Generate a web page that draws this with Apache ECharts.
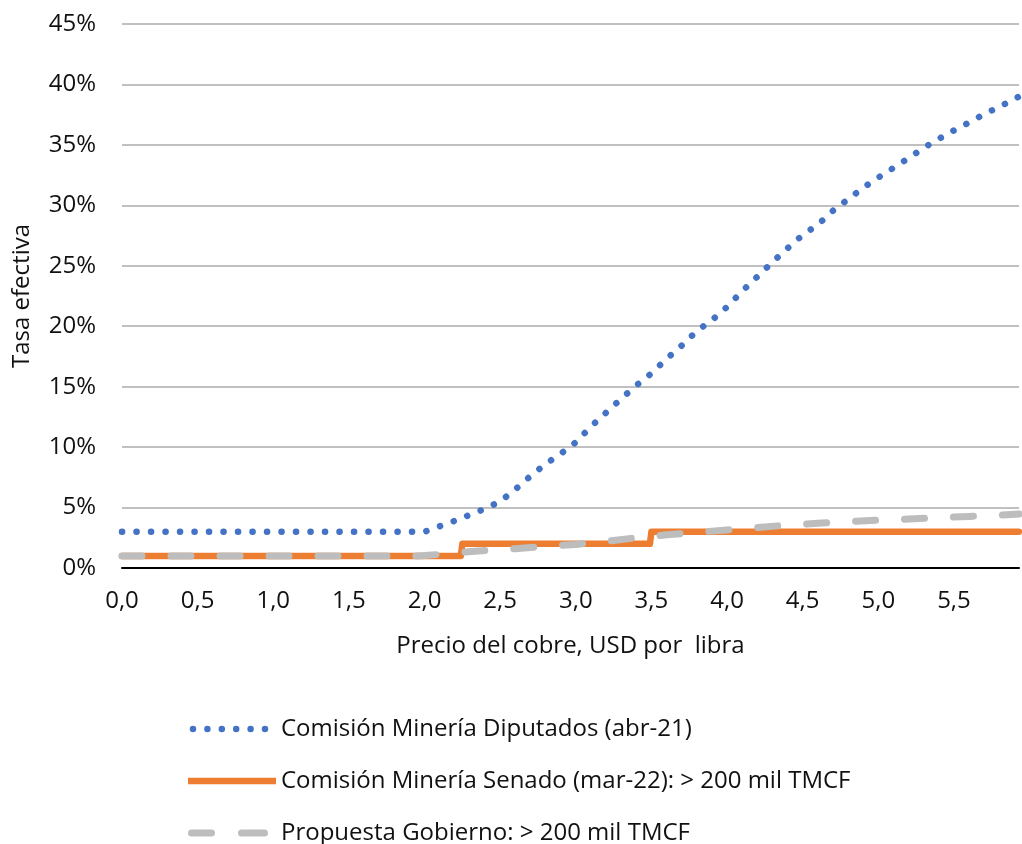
<!DOCTYPE html>
<html>
<head>
<meta charset="utf-8">
<script src="https://cdn.jsdelivr.net/npm/echarts@6/dist/echarts.min.js"></script>
<style>
html,body{margin:0;padding:0;background:#fff;}
#chart{width:1022px;height:844px;}
</style>
</head>
<body>
<div id="chart"></div>
<script>
// Tick labels / axis settings
const xTicks = [0, 0.5, 1, 1.5, 2, 2.5, 3, 3.5, 4, 4.5, 5, 5.5];
const yTicks = [0, 5, 10, 15, 20, 25, 30, 35, 40, 45];

const seriesNames = [
  'Comisión Minería Diputados (abr-21)',
  'Comisión Minería Senado (mar-22): > 200 mil TMCF',
  'Propuesta Gobierno: > 200 mil TMCF'
];

// Comisión Minería Diputados (abr-21) — price (USD/lb) and effective rate (%)
const diputadosX = [0, 2.0, 2.1, 2.2, 2.3, 2.4, 2.5, 2.6, 2.7, 2.8, 2.9, 3.0, 3.1, 3.2, 3.3, 3.4, 3.5, 3.6, 3.7, 3.8, 3.9, 4.0, 4.1, 4.2, 4.3, 4.4, 4.5, 4.6, 4.7, 4.8, 4.9, 5.0, 5.1, 5.2, 5.3, 5.4, 5.5, 5.6, 5.7, 5.8, 5.9, 5.93];
const diputadosY = [3.0, 3.0, 3.45, 3.9, 4.4, 4.9, 5.5, 6.5, 7.6, 8.6, 9.45, 10.4, 11.7, 12.85, 14.0, 15.1, 16.1, 17.3, 18.4, 19.6, 20.5, 21.6, 22.9, 24.1, 25.3, 26.45, 27.55, 28.4, 29.55, 30.5, 31.45, 32.3, 33.1, 33.9, 34.75, 35.5, 36.2, 36.85, 37.55, 38.15, 38.8, 39.0];

// Comisión Minería Senado (mar-22)
const senadoX = [0, 2.24, 2.25, 3.49, 3.5, 5.93];
const senadoY = [1, 1, 2, 2, 3, 3];

// Propuesta Gobierno
const gobiernoX = [0, 1.95, 2.0, 2.1, 2.2, 2.4, 2.6, 2.8, 3.0, 3.2, 3.4, 3.6, 3.8, 4.0, 4.2, 4.4, 4.6, 4.8, 5.0, 5.2, 5.4, 5.6, 5.8, 5.93];
const gobiernoY = [1.0, 1.0, 1.03, 1.13, 1.25, 1.45, 1.6, 1.8, 1.95, 2.2, 2.5, 2.75, 2.95, 3.15, 3.35, 3.55, 3.7, 3.85, 3.95, 4.05, 4.17, 4.27, 4.37, 4.47];

const xMax = 5.93;

function zip(xs, ys) { return xs.map((x, i) => [x, ys[i]]); }

const FONT = 'Open Sans';
const FS = 24;
const TXT = '#111';
const COLORS = ['#4472C4', '#ED7D31', '#BDBDBD'];

// legend icon shapes (88 x h boxes)
function dotsPath() {
  let p = 'M0,3.25 L0,3.25 M88,3.25 L88,3.25 ';
  for (let k = 0; k < 6; k++) {
    const cx = 5 + k * 14.4;
    p += 'M' + (cx - 3.25) + ',3.25 A3.25,3.25 0 1,0 ' + (cx + 3.25) + ',3.25 A3.25,3.25 0 1,0 ' + (cx - 3.25) + ',3.25 Z ';
  }
  return 'path://' + p;
}
function dashesPath() {
  let p = 'M0,3.5 L0,3.5 M88,3.5 L88,3.5 ';
  [[0, 27], [50, 80]].forEach(([a, b]) => {
    p += 'M' + (a + 3.5) + ',0 L' + (b - 3.5) + ',0 A3.5,3.5 0 0,1 ' + (b - 3.5) + ',7 L' + (a + 3.5) + ',7 A3.5,3.5 0 0,1 ' + (a + 3.5) + ',0 Z ';
  });
  return 'path://' + p;
}
const legendIcons = [dotsPath(), 'path://M0,0 L88,0 L88,6.5 L0,6.5 Z', dashesPath()];
const legendH = [6.5, 6.5, 7];
const legendTops = [715, 767, 819];

const chart = echarts.init(document.getElementById('chart'), null, {renderer: 'canvas'});
chart.setOption({
  animation: false,
  backgroundColor: '#fff',
  textStyle: {fontFamily: FONT, color: TXT},
  grid: {left: 122, right: 0, top: 24, bottom: 276, containLabel: false},
  xAxis: {
    type: 'value',
    min: xTicks[0],
    max: xMax,
    interval: 0.5,
    name: 'Precio del cobre, USD por  libra',
    nameLocation: 'middle',
    nameGap: 66,
    nameTextStyle: {fontFamily: FONT, fontSize: FS, color: TXT},
    axisLine: {show: true, onZero: true, lineStyle: {color: '#000', width: 2}},
    axisTick: {show: false},
    splitLine: {show: false},
    axisLabel: {
      fontFamily: FONT, fontSize: FS, color: TXT, margin: 21,
      formatter: function (v) {
        const ok = xTicks.some(t => Math.abs(t - v) < 1e-6);
        return ok ? v.toFixed(1).replace('.', ',') : '';
      }
    }
  },
  yAxis: {
    type: 'value',
    min: yTicks[0],
    max: yTicks[yTicks.length - 1],
    interval: 5,
    name: 'Tasa efectiva',
    nameLocation: 'middle',
    nameGap: 88,
    nameRotate: 90,
    nameTextStyle: {fontFamily: FONT, fontSize: FS, color: TXT},
    axisLine: {show: false},
    axisTick: {show: false},
    splitLine: {show: true, lineStyle: {color: '#ababab', width: 1.5}},
    axisLabel: {fontFamily: FONT, fontSize: FS, color: TXT, margin: 26, formatter: '{value}%'}
  },
  legend: seriesNames.map((n, i) => ({
    orient: 'vertical',
    left: 188,
    top: legendTops[i],
    padding: 0,
    itemWidth: 88,
    itemHeight: legendH[i],
    textStyle: {fontFamily: FONT, fontSize: FS, color: TXT, lineHeight: 28, padding: [0, 0, 0, 0]},
    data: [{name: n, icon: legendIcons[i], itemStyle: {color: COLORS[i]}}]
  })),
  series: [
    {
      name: seriesNames[0],
      type: 'line',
      data: zip(diputadosX, diputadosY),
      symbol: 'none',
      color: COLORS[0],
      lineStyle: {color: COLORS[0], width: 6.5, type: [0.1, 14.4], cap: 'round', join: 'round'},
      z: 3
    },
    {
      name: seriesNames[1],
      type: 'line',
      data: zip(senadoX, senadoY),
      symbol: 'none',
      color: COLORS[1],
      lineStyle: {color: COLORS[1], width: 6.5, type: 'solid', cap: 'round', join: 'round'},
      z: 4
    },
    {
      name: seriesNames[2],
      type: 'line',
      data: zip(gobiernoX, gobiernoY),
      symbol: 'none',
      color: COLORS[2],
      lineStyle: {color: COLORS[2], width: 7, type: [20, 29], cap: 'round', join: 'round'},
      z: 5
    }
  ]
});
</script>
</body>
</html>
